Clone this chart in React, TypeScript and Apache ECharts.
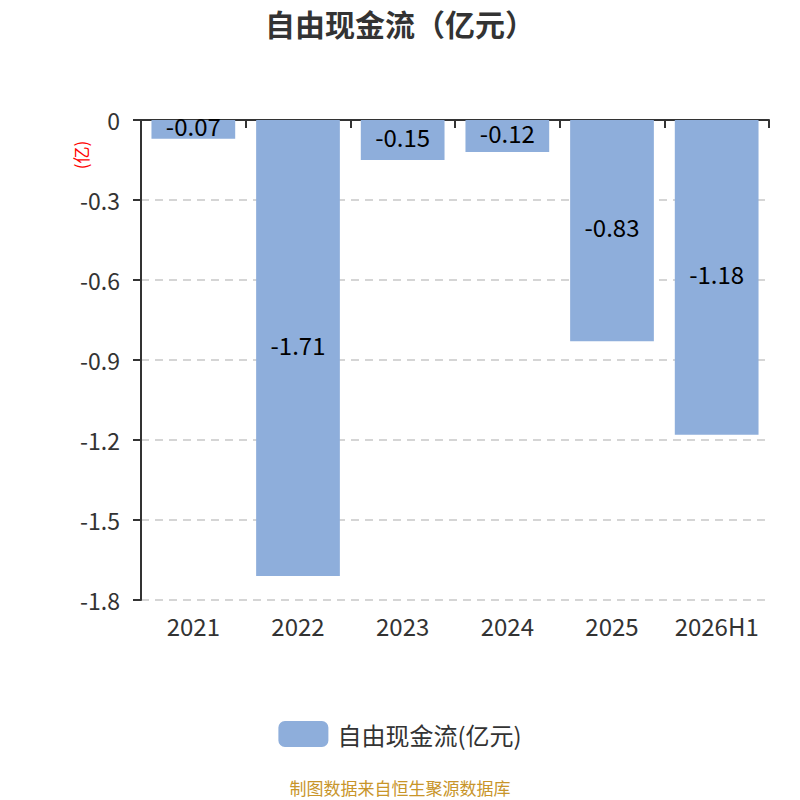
import React, { useEffect, useRef } from "react";
import * as echarts from "echarts";

const categories = ["2021", "2022", "2023", "2024", "2025", "2026H1"];
const values = [-0.07, -1.71, -0.15, -0.12, -0.83, -1.18];
const seriesName = "自由现金流(亿元)";
const titleText = "自由现金流（亿元）";
const unitText = "(亿)";
const sourceText = "制图数据来自恒生聚源数据库";

const FONT = "'Noto Sans CJK SC', 'Noto Sans', sans-serif";

export default function App() {
  const ref = useRef<HTMLDivElement>(null);
  useEffect(() => {
    if (!ref.current) return;
    const chart = echarts.init(ref.current, undefined, { renderer: "svg" });
    chart.setOption({
      animation: false,
      textStyle: { fontFamily: FONT },
      title: {
        text: titleText,
        left: "center",
        top: 3,
        textStyle: { fontSize: 30, fontWeight: "bold", color: "#333", fontFamily: FONT },
      },
      grid: { left: 141, right: 31, top: 120, bottom: 200, containLabel: false },
      legend: {
        top: 716,
        left: "center",
        itemWidth: 50,
        itemHeight: 26,
        itemGap: 10,
        icon: "roundRect",
        textStyle: { fontSize: 24, color: "#333", fontFamily: FONT, padding: [0, 0, 0, 4] },
        data: [seriesName],
      },
      xAxis: [
        {
          type: "category",
          data: categories,
          position: "bottom",
          axisLine: { onZero: true, lineStyle: { color: "#333", width: 2 } },
          axisTick: { show: true, length: 8, lineStyle: { color: "#333", width: 2 } },
          axisLabel: { show: false },
        },
        {
          type: "category",
          data: categories,
          position: "bottom",
          axisLine: { show: false, onZero: false },
          axisTick: { show: false },
          axisLabel: {
            show: true,
            interval: 0,
            fontSize: 24,
            color: "#333",
            margin: 13,
            fontFamily: FONT,
          },
        },
      ],
      yAxis: {
        type: "value",
        min: -1.8,
        max: 0,
        interval: 0.3,
        axisLine: { show: true, lineStyle: { color: "#333", width: 2 } },
        axisTick: { show: true, length: 8, lineStyle: { color: "#333", width: 2 } },
        axisLabel: {
          fontSize: 23,
          color: "#333",
          margin: 21,
          fontFamily: FONT,
          formatter: (v: number) => String(Math.round(v * 10) / 10),
        },
        splitLine: { show: true, lineStyle: { color: "#c8c8c8", type: [8, 6], width: 1.5 } },
      },
      graphic: [
        {
          type: "text",
          x: 80,
          y: 155,
          rotation: Math.PI / 2,
          style: {
            text: unitText,
            fill: "#ff0000",
            fontSize: 17,
            fontFamily: FONT,
            textAlign: "center",
            textVerticalAlign: "middle",
          },
        },
        {
          type: "text",
          x: 400,
          y: 787,
          style: {
            text: sourceText,
            fill: "#c8952a",
            fontSize: 17,
            fontFamily: FONT,
            textAlign: "center",
            textVerticalAlign: "middle",
          },
        },
      ],
      series: [
        {
          name: seriesName,
          type: "bar",
          xAxisIndex: 0,
          data: values,
          barWidth: "80%",
          itemStyle: { color: "#8eaedb" },
          label: {
            show: true,
            position: "inside",
            offset: [0, -4],
            color: "#000",
            fontSize: 24,
            fontFamily: FONT,
          },
        },
      ],
    });
    return () => chart.dispose();
  }, []);
  return (
    <div
      ref={ref}
      style={{ position: "absolute", left: 0, top: 0, width: 800, height: 800 }}
    />
  );
}
